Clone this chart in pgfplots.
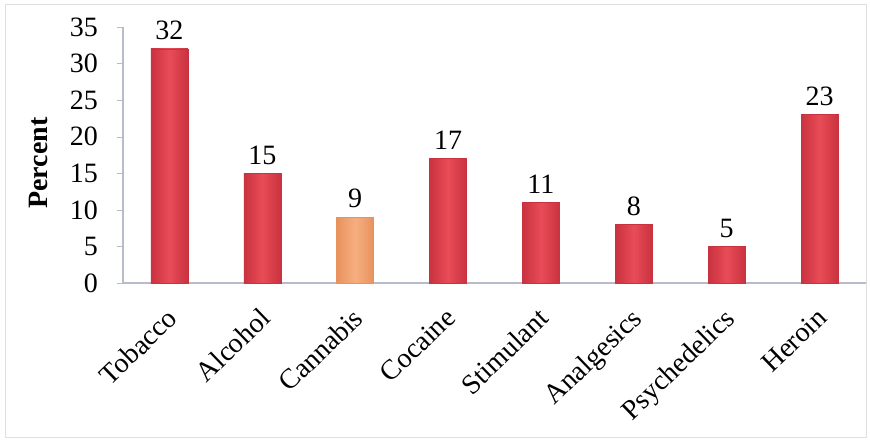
\documentclass[border=0pt]{standalone}
\usepackage{pgfplots}
\pgfplotsset{compat=1.18}
\usepackage{fontspec}
\setmainfont{Liberation Serif}
\definecolor{redmid}{HTML}{E84C57}
\definecolor{rededge}{HTML}{C9323F}
\definecolor{orgmid}{HTML}{F6AE80}
\definecolor{orgedge}{HTML}{E8925E}
\definecolor{axgray}{HTML}{B8BCC8}
\begin{document}
\begin{tikzpicture}
\path (0,0) rectangle (435pt,221.5pt);
\draw[gray!25, line width=0.5pt] (2.5pt,2.5pt) rectangle (433pt,219pt);
\begin{axis}[
  at={(61.5pt,80pt)}, anchor=south west,
  scale only axis, width=371.5pt, height=128pt,
  xmin=-0.5, xmax=7.5, ymin=0, ymax=35,
  ytick={0,5,...,35},
  xtick={0,...,7},
  xticklabels={Tobacco,Alcohol,Cannabis,Cocaine,Stimulant,Analgesics,Psychedelics,Heroin},
  extra x ticks={-0.5,0.5,...,7.5}, extra x tick labels={},
  extra x tick style={major tick length=3pt, tick style={axgray}},
  xtick style={draw=none},
  ytick style={axgray},
  major tick length=3pt,
  tick align=outside,
  axis x line*=bottom, axis y line*=left,
  axis line style={axgray, line width=0.6pt},
  x axis line style={-}, y axis line style={-},
  tick label style={font=\fontsize{14pt}{16pt}\selectfont},
  xticklabel style={xshift=-2pt, yshift=-8.5pt, rotate=44, anchor=north east, inner sep=0pt},
  yticklabel style={xshift=-6pt},
  /pgf/number format/assume math mode=true,
  ylabel={\textbf{Percent}},
  every axis y label/.style={at={(axis description cs:0,0.5)}, rotate=90, anchor=center, yshift=42.5pt, xshift=-4pt, font=\fontsize{14pt}{16pt}\selectfont},
  ybar, bar width=18.5pt, bar shift=0pt,
  nodes near coords,
  every node near coord/.append style={font=\fontsize{14pt}{16pt}\selectfont, black, yshift=1pt},
  every axis plot/.append style={line width=0.3pt},
  redbar/.style={draw=rededge, left color=rededge, right color=rededge, middle color=redmid},
]
\addplot[redbar] coordinates {(0,32)};
\addplot[redbar] coordinates {(1,15)};
\addplot[draw=orgedge, left color=orgedge, right color=orgedge, middle color=orgmid] coordinates {(2,9)};
\addplot[redbar] coordinates {(3,17)};
\addplot[redbar] coordinates {(4,11)};
\addplot[redbar] coordinates {(5,8)};
\addplot[redbar] coordinates {(6,5)};
\addplot[redbar] coordinates {(7,23)};
\end{axis}
\end{tikzpicture}
\end{document}
